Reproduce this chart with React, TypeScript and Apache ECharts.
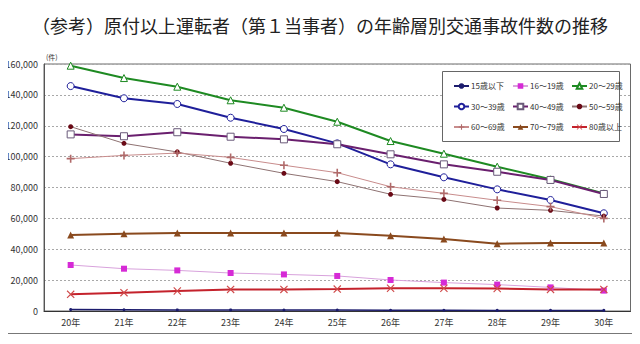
import React, { useEffect, useRef } from "react";
import * as echarts from "echarts";

const years = ["20年", "21年", "22年", "23年", "24年", "25年", "26年", "27年", "28年", "29年", "30年"];
const under15 = [900, 800, 700, 700, 600, 600, 500, 500, 400, 400, 400];
const age16_19 = [29800, 27400, 26300, 24600, 23700, 22700, 20100, 18400, 17100, 15300, 13200];
const age20_29 = [158900, 150900, 145300, 136500, 131700, 122600, 110100, 101900, 93500, 85300, 76200];
const age30_39 = [145700, 137800, 134100, 125200, 117900, 108600, 95000, 86600, 78800, 71900, 63300];
const age40_49 = [114400, 113200, 115800, 112900, 111200, 108000, 101500, 95000, 90200, 84900, 75800];
const age50_59 = [119400, 108600, 103000, 95700, 89200, 83800, 75600, 72300, 66700, 65200, 61500];
const age60_69 = [98700, 100800, 102300, 99500, 94400, 89600, 80500, 76200, 71700, 67600, 60000];
const age70_79 = [49200, 50100, 50500, 50500, 50500, 50500, 48800, 46600, 43600, 44000, 44000];
const age80plus = [10800, 11900, 13000, 14000, 14000, 14200, 14700, 14700, 14600, 14000, 14000];
const yTicks = [0, 20000, 40000, 60000, 80000, 100000, 120000, 140000, 160000];

const PLUS = "path://M4,0H6V4H10V6H6V10H4V6H0V4H4Z";
const CROSS = "path://M0,1L1,0L5,4L9,0L10,1L6,5L10,9L9,10L5,6L1,10L0,9L4,5Z";

const FONT = "'Noto Sans CJK JP', 'Noto Sans', sans-serif";

export default function App() {
  const ref = useRef<HTMLDivElement>(null);
  useEffect(() => {
    if (!ref.current) return;
    const chart = echarts.init(ref.current, null, { renderer: "svg" });
    const mk = (
      name: string,
      data: number[],
      lineColor: string,
      width: number,
      symbol: string,
      size: number,
      fill: string,
      border: string,
      borderWidth = 1
    ) => ({
      name,
      type: "line",
      data,
      symbol,
      symbolSize: size,
      showSymbol: true,
      lineStyle: { color: lineColor, width },
      itemStyle: { color: fill, borderColor: border, borderWidth },
      z: 3,
    });
    const series = [
      mk("15歳以下", under15, "#1c1c6e", 1.5, "circle", 3, "#1c1c6e", "#1c1c6e", 0),
      mk("16～19歳", age16_19, "#d8a2dc", 1, "rect", 6, "#d62ad6", "#d62ad6", 0),
      mk("20～29歳", age20_29, "#1e8a22", 2, "triangle", 7, "#ffffff", "#1e8a22", 1),
      mk("30～39歳", age30_39, "#1f1f9a", 2, "circle", 7, "#ffffff", "#1f1f9a", 1),
      mk("40～49歳", age40_49, "#6a1f6e", 2, "rect", 7, "#ffffff", "#6a5a7a", 1),
      mk("50～59歳", age50_59, "#8e7272", 1, "circle", 5, "#6a0a16", "#6a0a16", 0),
      mk("60～69歳", age60_69, "#c88c8c", 1, PLUS, 8, "#b06a6a", "#b06a6a", 0),
      mk("70～79歳", age70_79, "#8a4a1e", 2, "triangle", 7, "#8a4a1e", "#8a4a1e", 0),
      mk("80歳以上", age80plus, "#c4222c", 2, CROSS, 8, "#d04a4a", "#d04a4a", 0),
    ];
    const names = series.map((s) => s.name);
    const legendCommon = {
      orient: "vertical",
      top: 77,
      itemGap: 12.5,
      itemWidth: 15,
      itemHeight: 7,
      textStyle: { fontSize: 8, color: "#333", fontFamily: FONT, padding: [0, 0, 0, -3] },
      z: 10,
    };
    chart.setOption({
      animation: false,
      backgroundColor: "#ffffff",
      title: {
        text: "（参考）原付以上運転者（第１当事者）の年齢層別交通事故件数の推移",
        left: "center",
        top: 11,
        textStyle: { fontSize: 18, fontWeight: "normal", color: "#222", fontFamily: FONT },
      },
      grid: {
        left: 44,
        right: 9.5,
        top: 64,
        bottom: 33,
        show: true,
        borderColor: "#6a6a6a",
        borderWidth: 1,
        backgroundColor: "transparent",
      },
      legend: [
        { ...legendCommon, left: 448, data: [names[0], names[3], names[6]] },
        { ...legendCommon, left: 507, data: [names[1], names[4], names[7]] },
        { ...legendCommon, left: 566, data: [names[2], names[5], names[8]] },
      ],
      xAxis: {
        type: "category",
        data: years,
        boundaryGap: true,
        axisLine: { lineStyle: { color: "#333", width: 1 } },
        axisTick: { inside: true, length: 3, lineStyle: { color: "#333" } },
        axisLabel: { fontSize: 9, color: "#333", fontFamily: FONT, margin: 7 },
      },
      yAxis: {
        type: "value",
        min: yTicks[0],
        max: yTicks[yTicks.length - 1],
        interval: 20000,
        axisLine: { show: true, lineStyle: { color: "#555" } },
        axisTick: { show: false },
        splitLine: { lineStyle: { color: "#a8a8a8", type: [2, 2] } },
        axisLabel: {
          fontSize: 9,
          color: "#333",
          fontFamily: FONT,
          margin: 6,
          formatter: (v: number) => v.toLocaleString("en-US"),
        },
      },
      graphic: [
        {
          type: "rect",
          shape: { x: 442.5, y: 71.5, width: 177, height: 70 },
          style: { fill: "#ffffff", stroke: "#666", lineWidth: 1 },
          z: 5,
        },
        {
          type: "text",
          x: 46,
          y: 53,
          style: { text: "(件)", fontSize: 7, fill: "#333", fontFamily: FONT },
          z: 5,
        },
        {
          type: "line",
          shape: { x1: 0, y1: 333.5, x2: 640, y2: 333.5 },
          style: { stroke: "#777", lineWidth: 1 },
        },
      ],
      series,
    });
    return () => chart.dispose();
  }, []);
  return <div ref={ref} style={{ width: 640, height: 344, margin: -8 }} />;
}
